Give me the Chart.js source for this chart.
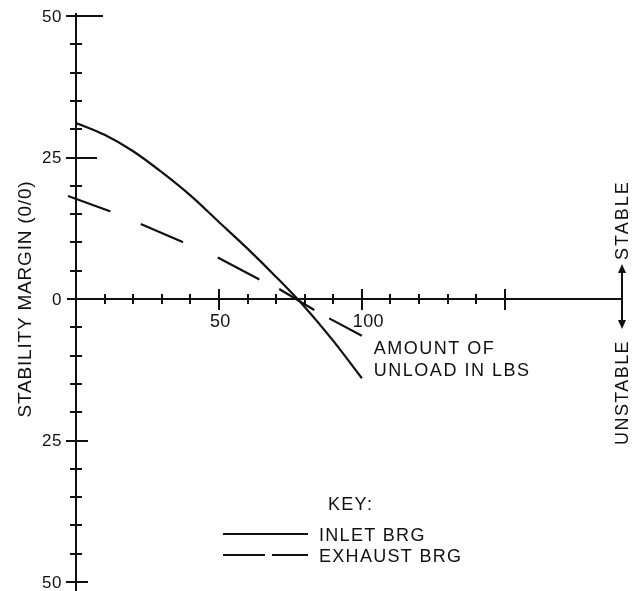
<!DOCTYPE html>
<html>
<head>
<meta charset="utf-8">
<script src="https://cdn.jsdelivr.net/npm/chart.js@4/dist/chart.umd.min.js"></script>
<style>
  body { margin: 0; background: #fff; }
</style>
</head>
<body>
<canvas id="margin-chart" width="643" height="591"></canvas>
<script>
// amount of unload (lbs) -> stability margin (%)
const inlet_unload = [0, 10, 20, 30, 40, 50, 60, 70, 80, 90, 100];
const inlet_margin = [31.1, 29.0, 26.1, 22.4, 18.3, 13.6, 8.9, 3.9, -1.4, -7.4, -14.0];
const exhaust_unload = [-2.8, 11.9, 22.4, 37.1, 49.3, 64, 71, 83.2, 88.5, 100];
const exhaust_margin = [18.2, 15.5, 13.3, 10.1, 7.4, 3.5, 1.8, -1.9, -3.4, -6.5];

// ticks
const x_tick_values = [10, 20, 30, 40, 50, 60, 70, 80, 90, 100, 110, 120, 130, 140, 150];
const x_major_values = [50, 100, 150];
const x_label_values = [50, 100];
const x_tick_labels = ['50', '100'];
const y_tick_values = [50, 45, 40, 35, 30, 25, 20, 15, 10, 5, -5, -10, -15, -20, -25, -30, -35, -40, -45, -50];
const y_label_values = [50, 25, 0, -25, -50];
const y_tick_labels = ['50', '25', '0', '25', '50'];

const y_title = 'STABILITY MARGIN (0/0)';
const x_title = ['AMOUNT OF', 'UNLOAD IN LBS'];
const side_labels = ['STABLE', 'UNSTABLE'];
const key_title = 'KEY:';

const ink = '#111';
const font_family = '"Liberation Sans", Arial, sans-serif';
// how far the long ticks on the y axis reach to the right
const y_major_right = { '50': 27, '25': 21, '-25': 12, '-50': 12 };

var canva = document.getElementById('margin-chart');

function seg(ctx, x1, y1, x2, y2) {
    ctx.beginPath();
    ctx.moveTo(x1, y1);
    ctx.lineTo(x2, y2);
    ctx.stroke();
}

function text(ctx, str, x, y, size, align, baseline, spacing) {
    ctx.font = size + 'px ' + font_family;
    ctx.textAlign = align;
    ctx.textBaseline = baseline;
    ctx.letterSpacing = (spacing || 0) + 'px';
    ctx.fillText(str, x, y);
    ctx.letterSpacing = '0px';
}

//axes, ticks and all the labels are drawn off the chart's own scales
const axesPlugin = {
    id: 'handAxes',
    beforeDatasetsDraw(chart) {
        const ctx = chart.ctx;
        const xs = chart.scales.x;
        const ys = chart.scales.y;
        const x0 = xs.getPixelForValue(0);
        const y0 = ys.getPixelForValue(0);

        ctx.save();
        ctx.strokeStyle = ink;
        ctx.fillStyle = ink;
        ctx.lineWidth = 2;
        ctx.lineCap = 'butt';

        // axis lines
        seg(ctx, x0, ys.top - 3, x0, ys.bottom + 9);
        seg(ctx, x0 - 9, y0, xs.right, y0);

        // y ticks
        for (var i = 0; i < y_tick_values.length; i++) {
            var v = y_tick_values[i];
            var py = Math.round(ys.getPixelForValue(v));
            if (y_label_values.indexOf(v) >= 0) {
                seg(ctx, x0 - 10, py, x0 + y_major_right[String(v)], py);
            } else {
                seg(ctx, x0 - 6, py, x0 + 6, py);
            }
        }
        // x ticks
        for (var i = 0; i < x_tick_values.length; i++) {
            var v = x_tick_values[i];
            var px = Math.round(xs.getPixelForValue(v));
            if (x_major_values.indexOf(v) >= 0) {
                seg(ctx, px, y0 - 10, px, y0 + 11);
            } else {
                seg(ctx, px, y0 - 5, px, y0 + 5);
            }
        }

        // tick labels
        for (var i = 0; i < y_label_values.length; i++) {
            text(ctx, y_tick_labels[i], x0 - 14, ys.getPixelForValue(y_label_values[i]) + 1, 17, 'right', 'middle', 0.5);
        }
        for (var i = 0; i < x_label_values.length; i++) {
            text(ctx, x_tick_labels[i], xs.getPixelForValue(x_label_values[i]) - 9, y0 + 28, 18, 'left', 'alphabetic', 0.3);
        }

        // y title
        ctx.save();
        ctx.translate(26, (ys.top + ys.bottom) / 2);
        ctx.rotate(-Math.PI / 2);
        text(ctx, y_title, 0, 0, 19, 'center', 'middle', 0.8);
        ctx.restore();

        // x title next to the end of the curves
        const tx = xs.getPixelForValue(100) + 12;
        text(ctx, x_title[0], tx, y0 + 55, 18, 'left', 'alphabetic', 1.5);
        text(ctx, x_title[1], tx, y0 + 77, 18, 'left', 'alphabetic', 1.5);

        // stable / unstable arrow at the end of the x axis
        const ax = xs.right;
        seg(ctx, ax, y0 - 28, ax, y0 + 23);
        ctx.beginPath();
        ctx.moveTo(ax, y0 - 35); ctx.lineTo(ax - 4, y0 - 26); ctx.lineTo(ax + 4, y0 - 26); ctx.closePath();
        ctx.fill();
        ctx.beginPath();
        ctx.moveTo(ax, y0 + 30); ctx.lineTo(ax - 4, y0 + 21); ctx.lineTo(ax + 4, y0 + 21); ctx.closePath();
        ctx.fill();

        ctx.save();
        ctx.translate(ax + 1, y0 - 39);
        ctx.rotate(-Math.PI / 2);
        text(ctx, side_labels[0], 0, 0, 18, 'left', 'middle', 2);
        ctx.restore();
        ctx.save();
        ctx.translate(ax + 1, y0 + 41);
        ctx.rotate(-Math.PI / 2);
        text(ctx, side_labels[1], 0, 0, 18, 'right', 'middle', 1.4);
        ctx.restore();

        ctx.restore();
    },
    afterDraw(chart) {
        //the key under the curves
        const ctx = chart.ctx;
        const sets = chart.data.datasets;
        ctx.save();
        ctx.strokeStyle = ink;
        ctx.fillStyle = ink;
        ctx.lineWidth = 2;
        text(ctx, key_title, 328, 510, 18, 'left', 'alphabetic', 1.3);
        seg(ctx, 223, 534, 308, 534);
        text(ctx, sets[0].label, 319, 541, 18, 'left', 'alphabetic', 1.3);
        seg(ctx, 223, 555, 265, 555);
        seg(ctx, 272, 555, 308, 555);
        text(ctx, sets[1].label, 319, 562, 18, 'left', 'alphabetic', 1.3);
        ctx.restore();
    }
};

var inlet_points = [];
for (var i = 0; i < inlet_unload.length; i++) {
    inlet_points.push({ x: inlet_unload[i], y: inlet_margin[i] });
}
var exhaust_points = [];
for (var i = 0; i < exhaust_unload.length; i++) {
    exhaust_points.push({ x: exhaust_unload[i], y: exhaust_margin[i] });
}

const data = {
    datasets: [{
        label: 'INLET BRG',
        data: inlet_points,
        borderColor: ink,
        borderWidth: 2.2,
        pointRadius: 0,
        cubicInterpolationMode: 'monotone',
        fill: false
    }, {
        label: 'EXHAUST BRG',
        data: exhaust_points,
        borderColor: ink,
        borderWidth: 2.2,
        borderDash: [45, 33, 46, 38, 47, 22, 41, 17, 38, 200],
        pointRadius: 0,
        tension: 0,
        clip: false,
        fill: false
    }]
};

const config = {
    type: 'line',
    data: data,
    options: {
        responsive: false,
        animation: false,
        layout: { padding: { left: 76, right: 21, top: 16, bottom: 9 } },
        plugins: {
            legend: { display: false },
            tooltip: { enabled: false }
        },
        scales: {
            x: { type: 'linear', min: 0, max: 191, display: false },
            y: { type: 'linear', min: -50, max: 50, display: false }
        }
    },
    plugins: [axesPlugin]
};

const margin_chart = new Chart(canva, config);
</script>
</body>
</html>
